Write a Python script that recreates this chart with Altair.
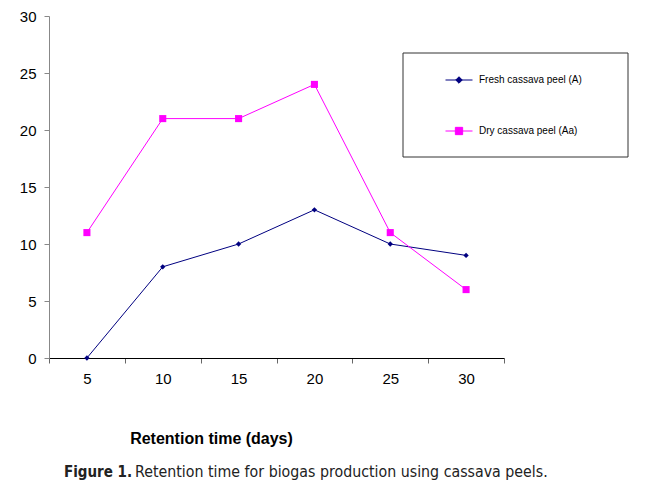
import altair as alt
import pandas as pd

days = [5, 10, 15, 20, 25, 30]
fresh = [0, 8, 10, 13, 10, 9]
dry = [11, 21, 21, 24, 11, 6]
series_names = ["Fresh cassava peel (A)", "Dry cassava peel (Aa)"]
series_colors = ["#000080", "#FF00FF"]
point_shapes = ["diamond", "square"]
legend_shapes = [
    "M-1,0H1M0,-0.24L0.24,0L0,0.24L-0.24,0Z",
    "M-1,0H1M-0.27,-0.27H0.27V0.27H-0.27Z",
]
y_ticks = [0, 5, 10, 15, 20, 25, 30]
x_title = "Retention time (days)"
caption_bold = "Figure 1."
caption_text = "Retention time for biogas production using cassava peels."

rows = []
for d, v in zip(days, fresh):
    rows.append({"day": d, "value": v, "series": series_names[0]})
for d, v in zip(days, dry):
    rows.append({"day": d, "value": v, "series": series_names[1]})
df = pd.DataFrame(rows)

W, H = 455, 342
FONT = "Liberation Sans, Arial, sans-serif"

x_enc = alt.X(
    "day:O",
    sort=days,
    scale=alt.Scale(type="band", paddingInner=0, paddingOuter=0),
    axis=alt.Axis(
        title=x_title,
        labelAngle=0,
        tickBand="extent",
        labelFont=FONT,
        labelFontSize=15,
        labelColor="black",
        labelPadding=8,
        tickSize=5,
        tickColor="#666",
        domainColor="black",
        titleFont=FONT,
        titleFontSize=16,
        titleFontWeight="bold",
        titleColor="black",
        titleX=162,
        titleY=80,
        titleBaseline="middle",
        titleAnchor="middle",
        titleAlign="center",
    ),
)
y_enc = alt.Y(
    "value:Q",
    scale=alt.Scale(domain=[0, 30], nice=False),
    axis=alt.Axis(
        title=None,
        values=y_ticks,
        grid=False,
        labelFont=FONT,
        labelFontSize=15,
        labelColor="black",
        labelPadding=8,
        tickSize=5,
        tickColor="#888",
        domainColor="#888",
    ),
)

color_scale = alt.Scale(domain=series_names, range=series_colors)

lines = alt.Chart(df).mark_line(strokeWidth=1).encode(
    x=x_enc,
    y=y_enc,
    stroke=alt.Stroke("series:N", scale=color_scale, legend=None),
    detail="series:N",
)

points = alt.Chart(df).mark_point(filled=True, opacity=1).encode(
    x=x_enc,
    y=y_enc,
    fill=alt.Fill("series:N", scale=color_scale, legend=None),
    shape=alt.Shape("series:N", scale=alt.Scale(domain=series_names, range=point_shapes), legend=None),
    size=alt.Size("series:N", scale=alt.Scale(domain=series_names, range=[28, 50]), legend=None),
)

leg = alt.Legend(
    orient="none",
    legendX=396,
    legendY=50,
    title=None,
    padding=0,
    symbolSize=729,
    symbolStrokeWidth=1,
    symbolOpacity=1,
    labelFont=FONT,
    labelFontSize=10,
    labelColor="black",
    labelOffset=6,
    rowPadding=31,
)

legend_layer = alt.Chart(df).mark_point(filled=True, opacity=0).encode(
    x=x_enc,
    y=y_enc,
    fill=alt.Fill("series:N", scale=color_scale, legend=leg, title=None),
    stroke=alt.Stroke("series:N", scale=color_scale, legend=leg, title=None),
    shape=alt.Shape("series:N", scale=alt.Scale(domain=series_names, range=legend_shapes), legend=leg, title=None),
)

box_df = pd.DataFrame({"k": [0]})
box = alt.Chart(box_df).mark_rect(filled=False, stroke="#333", strokeWidth=1).encode(
    x=alt.value(354), x2=alt.value(579), y=alt.value(37), y2=alt.value(141)
)

cap1 = alt.Chart(box_df).mark_text(
    text=caption_bold, font="Liberation Sans Narrow, DejaVu Sans Condensed, sans-serif",
    fontSize=15, fontWeight="bold", align="left", baseline="middle", color="#222",
).encode(x=alt.value(15), y=alt.value(456))
cap2 = alt.Chart(box_df).mark_text(
    text=caption_text, font="Liberation Sans Narrow, DejaVu Sans Condensed, sans-serif",
    fontSize=15.8, align="left", baseline="middle", color="#222",
).encode(x=alt.value(86), y=alt.value(456))

chart = (
    alt.layer(box, lines, points, legend_layer, cap1, cap2)
    .resolve_scale(shape="independent", size="independent", fill="independent", stroke="independent")
    .properties(
        width=W,
        height=H,
        background="white",
        autosize=alt.AutoSizeParams(type="none"),
        padding={"left": 41, "top": 8, "right": 150, "bottom": 127},
    )
    .configure_view(strokeWidth=0, stroke="transparent")
)

chart.save("out.html", embed_options={"renderer": "svg", "actions": False})
